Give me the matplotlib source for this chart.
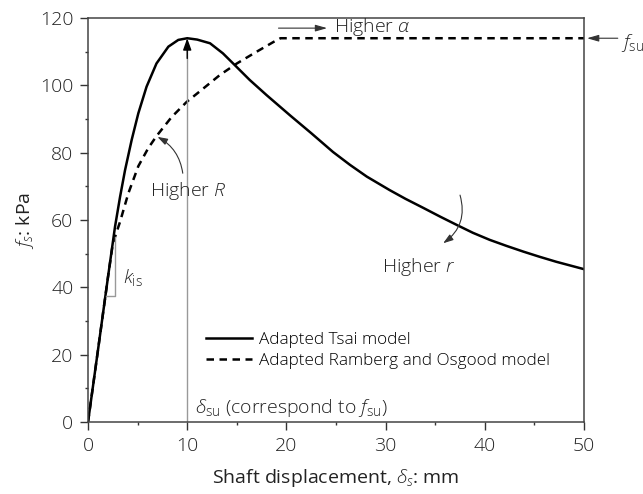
import numpy as np
import matplotlib
matplotlib.use("Agg")
import matplotlib.pyplot as plt

plt.rcParams['font.family'] = ['Open Sans', 'DejaVu Sans']
plt.rcParams['font.weight'] = 'light'
plt.rcParams['mathtext.fontset'] = 'custom'
plt.rcParams['mathtext.rm'] = 'Open Sans:light'
plt.rcParams['mathtext.it'] = 'Open Sans:italic:light'

# adapted Tsai model (softening after peak)
tsai_x = [0, 1, 2, 2.72, 3.23, 3.73, 4.4, 5.07, 5.9, 6.9, 8.1, 9.1, 10, 11, 12.3,
          13.6, 14.8, 16.3, 18.0, 20.4, 22.5, 24.7, 26.4, 28.1, 30.4, 32, 33.8,
          35.5, 37.2, 38.8, 40.5, 42.2, 43.9, 45.5, 47.2, 48.6, 50]
tsai_y = [0, 21.3, 42.8, 58.0, 66.9, 74.8, 83.8, 91.7, 99.6, 106.5, 111.5, 113.5,
          114, 113.6, 112.5, 109.5, 106, 101.6, 97.1, 91.0, 85.8, 80.2, 76.4, 72.9,
          68.9, 66.3, 63.6, 61.0, 58.5, 56.2, 54.1, 52.3, 50.6, 49.1, 47.6, 46.5, 45.4]

# adapted Ramberg and Osgood model (capped at f_su)
ro_x = [0, 1, 2, 2.5, 3.23, 4.06, 5.07, 6.08, 6.92, 8.43, 9.95, 11.3, 13.3, 15.0,
        17.0, 18.7, 19.4, 50]
ro_y = [0, 21.3, 42.8, 53, 59.5, 67.9, 76.0, 81.4, 85.0, 90.6, 95.1, 98.3, 103.1,
        106.5, 110, 112.9, 114, 114]

xticks = [0, 10, 20, 30, 40, 50]
yticks = [0, 20, 40, 60, 80, 100, 120]

TXT = '#222222'
fig = plt.figure(figsize=(6.43, 4.94), dpi=100)
ax = fig.add_axes([0.1369, 0.1457, 0.7714, 0.8178])

ax.plot(tsai_x, tsai_y, color='black', lw=1.8, label='Adapted Tsai model')
ax.plot(ro_x, ro_y, color='black', lw=1.8, ls=(0, (3.0, 2.2)),
        label='Adapted Ramberg and Osgood model')

ax.set_xlim(0, 50)
ax.set_ylim(0, 120)
ax.set_xticks(xticks)
ax.set_yticks(yticks)
ax.set_xticks([5, 15, 25, 35, 45], minor=True)
ax.set_yticks([10, 30, 50, 70, 90, 110], minor=True)
ax.tick_params(which='major', direction='out', length=5.5, width=1, colors='#333333',
               labelsize=14, pad=5)
ax.tick_params(which='minor', direction='out', length=2.5, width=1, colors='#333333')
ax.tick_params(labelcolor=TXT)
for s in ax.spines.values():
    s.set_color('#444444')
    s.set_linewidth(1.1)

ax.set_xlabel(r'Shaft displacement, $\delta_s$: mm', fontsize=14, color=TXT, labelpad=9)
ax.set_ylabel(r'$f_s$: kPa', fontsize=14, color=TXT, labelpad=3)

# peak of the Tsai curve
ipk = int(np.argmax(tsai_y))
xpk, ypk = tsai_x[ipk], tsai_y[ipk]
ax.plot([xpk, xpk], [0, ypk - 3], color='#999999', lw=1)
ax.annotate('', xy=(xpk, ypk), xytext=(xpk, ypk - 6),
            arrowprops=dict(arrowstyle='-|>,head_length=0.7,head_width=0.25',
                            color='black', lw=1, shrinkA=0, shrinkB=0))
ax.text(xpk + 0.8, 4.2, r'$\delta_{\mathrm{su}}$ (correspond to $f_{\mathrm{su}}$)',
        fontsize=14, va='center', color=TXT)

# initial stiffness triangle
ax.plot([1.8, 2.72, 2.72], [37.4, 37.4, 55], color='#999999', lw=1)
ax.text(3.5, 43, r'$k_{\mathrm{is}}$', fontsize=14, va='center', color=TXT)

# Higher R
ax.text(6.2, 68.6, r'Higher $R$', fontsize=14, va='center', color=TXT)
ax.annotate('', xy=(7.0, 84.7), xytext=(9.55, 73.9),
            arrowprops=dict(arrowstyle='-|>,head_length=0.6,head_width=0.2',
                            color='#333333', lw=0.8, shrinkA=0, shrinkB=0,
                            connectionstyle='arc3,rad=0.25'))

# Higher r
ax.text(29.6, 46, r'Higher $r$', fontsize=14, va='center', color=TXT)
ax.annotate('', xy=(35.8, 53.1), xytext=(37.5, 67.4),
            arrowprops=dict(arrowstyle='-|>,head_length=0.6,head_width=0.2',
                            color='#333333', lw=0.8, shrinkA=0, shrinkB=0,
                            connectionstyle='arc3,rad=-0.35'))

# Higher alpha
ax.annotate('', xy=(24.1, 117), xytext=(19.2, 117),
            arrowprops=dict(arrowstyle='-|>,head_length=0.7,head_width=0.2',
                            color='#333333', lw=0.8, shrinkA=0, shrinkB=0))
ax.text(24.8, 117.3, r'Higher $\alpha$', fontsize=14, va='center', color=TXT)

# f_su marker outside the right spine
fsu = max(ro_y)
ax.annotate('', xy=(50.3, fsu), xytext=(53.4, fsu), annotation_clip=False,
            arrowprops=dict(arrowstyle='-|>,head_length=0.7,head_width=0.2',
                            color='#333333', lw=0.8, shrinkA=0, shrinkB=0))
ax.text(53.7, fsu - 1.5, r'$f_{\mathrm{su}}$', fontsize=14, va='center',
        color=TXT, clip_on=False)

ax.legend(loc='center left', bbox_to_anchor=(0.238, 0.177), frameon=False,
          fontsize=12.3, handlelength=2.7, handletextpad=0.4, labelspacing=0.3,
          borderpad=0, borderaxespad=0)

fig.savefig('out.png', dpi=100)
